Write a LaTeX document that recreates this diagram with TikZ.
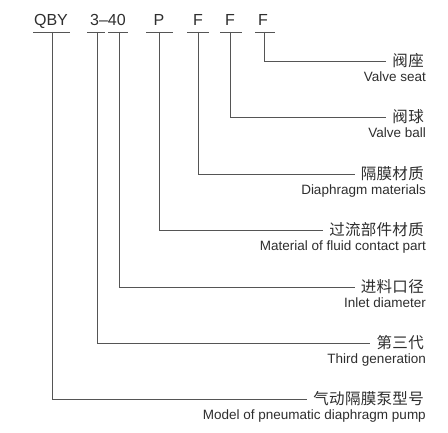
\documentclass[tikz,border=0pt]{standalone}
\usepackage{fontspec}
\setmainfont{Liberation Sans}
\newfontfamily\cjkf[LetterSpace=2]{Noto Sans CJK SC}
\newfontfamily\latf{Liberation Sans}
\definecolor{txtc}{HTML}{2E2E2E}
\definecolor{linec}{HTML}{555555}
\tikzset{
  codetxt/.style={font=\latf\fontsize{16}{18}\selectfont, text=txtc, inner sep=0pt, anchor=base},
  cnlabel/.style={font=\cjkf\fontsize{15.5}{17}\selectfont, text=txtc, inner sep=0pt, anchor=east},
  enlabel/.style={font=\latf\fontsize{13.5}{16}\selectfont, text=txtc, inner sep=0pt, anchor=base east},
  lead/.style={draw=linec, line width=0.9pt},
}
\begin{document}
\begin{tikzpicture}[x=1pt,y=-1pt]
\useasboundingbox (0,0) rectangle (448,433);
% codes
\node[codetxt] (qby) at (51,26) {QBY};
\node[codetxt] (n340) at (108,26) {3–40};
\node[codetxt] (p) at (159,26) {P};
\node[codetxt] (f1) at (198,26) {F};
\node[codetxt] (f2) at (230,26) {F};
\node[codetxt] (f3) at (263,26) {F};
% underline tops
\coordinate (t1) at (52,32);
\coordinate (t2) at (97,32);
\coordinate (t3) at (119,32);
\coordinate (t4) at (159,32);
\coordinate (t5) at (198,32);
\coordinate (t6) at (230,32);
\coordinate (t7) at (264,32);
\draw[lead] (33,32) -- (70,32);
\draw[lead] (87,32) -- (105,32);
\draw[lead] (108,32) -- (128,32);
\draw[lead] (146,32) -- (173,32);
\draw[lead] (187,32) -- (209,32);
\draw[lead] (220,32) -- (242,32);
\draw[lead] (255,32) -- (275,32);
% labels
\node[cnlabel] (c7) at (424,61) {阀座};
\node[enlabel] (e7) at (426,82) {Valve seat};
\node[cnlabel] (c6) at (424,117) {阀球};
\node[enlabel] (e6) at (426,138) {Valve ball};
\node[cnlabel] (c5) at (424,174) {隔膜材质};
\node[enlabel] (e5) at (426,195) {Diaphragm materials};
\node[cnlabel] (c4) at (424,230) {过流部件材质};
\node[enlabel] (e4) at (426,251) {Material of fluid contact part};
\node[cnlabel] (c3) at (424,287) {进料口径};
\node[enlabel] (e3) at (426,308) {Inlet diameter};
\node[cnlabel] (c2) at (424,343) {第三代};
\node[enlabel] (e2) at (426,364) {Third generation};
\node[cnlabel] (c1) at (424,399) {气动隔膜泵型号};
\node[enlabel] (e1) at (426,420) {Model of pneumatic diaphragm pump};
% connectors
\draw[lead] (t7) |- ([xshift=-6pt]c7.west);
\draw[lead] (t6) |- ([xshift=-6pt]c6.west);
\draw[lead] (t5) |- ([xshift=-6pt]c5.west);
\draw[lead] (t4) |- ([xshift=-6pt]c4.west);
\draw[lead] (t3) |- ([xshift=-6pt]c3.west);
\draw[lead] (t2) |- ([xshift=-6pt]c2.west);
\draw[lead] (t1) |- ([xshift=-6pt]c1.west);
\end{tikzpicture}
\end{document}
